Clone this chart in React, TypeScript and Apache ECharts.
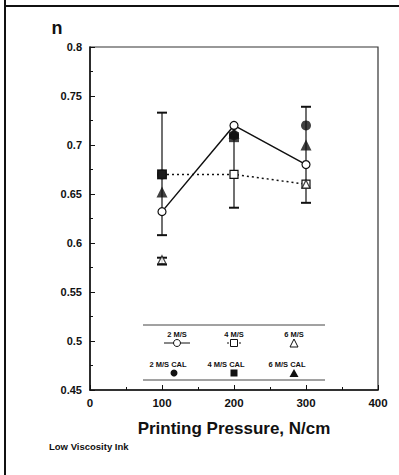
import React, { useEffect, useRef } from "react";
import * as echarts from "echarts";

const pressures = [100, 200, 300];
const ms2 = [0.632, 0.72, 0.68];
const ms4 = [0.67, 0.67, 0.66];
const ms6 = [0.583, 0.712, 0.66];
const ms2cal = [0.67, 0.71, 0.72];
const ms4cal = [0.67, 0.708, null];
const ms6cal = [0.652, 0.712, 0.7];
const errX = [100, 100, 200, 300];
const errLow = [0.608, 0.578, 0.636, 0.641];
const errHigh = [0.733, 0.585, 0.71, 0.739];
const yTicks = [0.45, 0.5, 0.55, 0.6, 0.65, 0.7, 0.75, 0.8];
const xTicks = [0, 100, 200, 300, 400];

const FONT = "Liberation Sans";
const INK = "#111";

function pairs(vals: (number | null)[]) {
  return pressures.map((p, i) => (vals[i] == null ? null : [p, vals[i]])).filter(Boolean);
}

export default function App() {
  const ref = useRef<HTMLDivElement>(null);
  useEffect(() => {
    const chart = echarts.init(ref.current!, undefined, { renderer: "svg" });
    const open = { color: "#fff", borderColor: INK, borderWidth: 1.2 };
    const filled = { color: INK, borderColor: INK, borderWidth: 0 };
    const legTxt = (text: string, x: number, y: number) => ({
      type: "text",
      x,
      y,
      style: { text, fontFamily: FONT, fontWeight: "bold", fontSize: 7.5, fill: INK, textAlign: "center", textVerticalAlign: "middle" },
    });
    chart.setOption({
      animation: false,
      grid: { left: 90, top: 47, right: 21, bottom: 85, show: true, borderColor: "#333", borderWidth: 1.2, backgroundColor: "transparent" },
      xAxis: {
        type: "value",
        min: xTicks[0],
        max: xTicks[xTicks.length - 1],
        interval: 100,
        name: "Printing Pressure, N/cm",
        nameLocation: "middle",
        nameGap: 30,
        nameTextStyle: { fontFamily: FONT, fontWeight: "bold", fontSize: 17, color: INK },
        axisLine: { show: true, lineStyle: { color: INK, width: 1.5 } },
        axisTick: { show: true, inside: true, length: 5, lineStyle: { color: INK } },
        minorTick: { show: true, splitNumber: 2, length: 3, lineStyle: { color: INK } },
        axisLabel: { fontFamily: FONT, fontWeight: "bold", fontSize: 11.5, color: INK, margin: 7 },
        splitLine: { show: false },
      },
      yAxis: {
        type: "value",
        min: yTicks[0],
        max: yTicks[yTicks.length - 1],
        interval: 0.05,
        axisLine: { show: true, lineStyle: { color: INK, width: 1.5 } },
        axisTick: { show: true, inside: true, length: 5, lineStyle: { color: INK } },
        minorTick: { show: true, splitNumber: 2, length: 3, lineStyle: { color: INK } },
        axisLabel: {
          fontFamily: FONT,
          fontWeight: "bold",
          fontSize: 11,
          color: INK,
          margin: 8,
          formatter: (v: number) => String(Math.round(v * 100) / 100),
        },
        splitLine: { show: false },
      },
      graphic: [
        { type: "line", shape: { x1: 5, y1: 0, x2: 5, y2: 475 }, style: { stroke: INK, lineWidth: 2 } },
        { type: "line", shape: { x1: 5, y1: 6, x2: 399, y2: 6 }, style: { stroke: INK, lineWidth: 2 } },
        { type: "text", x: 57, y: 28, style: { text: "n", fontFamily: FONT, fontWeight: "bold", fontSize: 18, fill: INK, textAlign: "center", textVerticalAlign: "middle" } },
        { type: "text", x: 49, y: 446, style: { text: "Low Viscosity Ink", fontFamily: FONT, fontWeight: "bold", fontSize: 9.5, fill: INK, textVerticalAlign: "middle" } },
        { type: "line", shape: { x1: 143, y1: 325, x2: 325, y2: 325 }, style: { stroke: "#444", lineWidth: 1 } },
        { type: "line", shape: { x1: 143, y1: 380, x2: 325, y2: 380 }, style: { stroke: "#444", lineWidth: 1 } },
        legTxt("2 M/S", 177, 334),
        legTxt("4 M/S", 234, 334),
        legTxt("6 M/S", 294, 334),
        legTxt("2 M/S CAL", 168, 364),
        legTxt("4 M/S CAL", 226, 364),
        legTxt("6 M/S CAL", 287, 364),
        { type: "line", shape: { x1: 164, y1: 343, x2: 190, y2: 343 }, style: { stroke: INK, lineWidth: 1 } },
        { type: "circle", shape: { cx: 177, cy: 343, r: 3.5 }, style: { fill: "#fff", stroke: INK, lineWidth: 1 } },
        { type: "line", shape: { x1: 227, y1: 343, x2: 242, y2: 343 }, style: { stroke: INK, lineWidth: 1, lineDash: [2, 2] } },
        { type: "rect", shape: { x: 230.5, y: 339.5, width: 7, height: 7 }, style: { fill: "#fff", stroke: INK, lineWidth: 1 } },
        { type: "polygon", shape: { points: [[294, 339], [298, 347], [290, 347]] }, style: { fill: "#fff", stroke: INK, lineWidth: 1 } },
        { type: "circle", shape: { cx: 174, cy: 373, r: 3.5 }, style: { fill: INK } },
        { type: "rect", shape: { x: 230.5, y: 369.5, width: 7, height: 7 }, style: { fill: INK } },
        { type: "polygon", shape: { points: [[294, 369], [298.5, 377], [289.5, 377]] }, style: { fill: INK } },
      ],
      series: [
        {
          type: "custom",
          data: errX.map((x, i) => [x, errLow[i], errHigh[i]]),
          renderItem: (params: any, api: any) => {
            const x = api.value(0);
            const lo = api.coord([x, api.value(1)]);
            const hi = api.coord([x, api.value(2)]);
            const w = 5;
            const st = { stroke: INK, lineWidth: 1.2 };
            return {
              type: "group",
              children: [
                { type: "line", shape: { x1: lo[0], y1: lo[1], x2: hi[0], y2: hi[1] }, style: st },
                { type: "line", shape: { x1: lo[0] - w, y1: lo[1], x2: lo[0] + w, y2: lo[1] }, style: { stroke: INK, lineWidth: 2 } },
                { type: "line", shape: { x1: hi[0] - w, y1: hi[1], x2: hi[0] + w, y2: hi[1] }, style: { stroke: INK, lineWidth: 2 } },
              ],
            };
          },
          z: 1,
        },
        {
          name: "4 M/S",
          type: "line",
          data: pairs(ms4),
          symbol: "rect",
          symbolSize: 8,
          itemStyle: open,
          lineStyle: { color: INK, width: 1.5, type: [2, 3] },
          z: 2,
        },
        { name: "6 M/S", type: "scatter", data: pairs(ms6), symbol: "triangle", symbolSize: 8, itemStyle: open, z: 3 },
        { name: "4 M/S CAL", type: "scatter", data: pairs(ms4cal), symbol: "rect", symbolSize: 10, itemStyle: filled, z: 4 },
        { name: "2 M/S CAL", type: "scatter", data: pairs(ms2cal), symbol: "circle", symbolSize: 10, itemStyle: filled, z: 4 },
        { name: "6 M/S CAL", type: "scatter", data: pairs(ms6cal), symbol: "triangle", symbolSize: 11, itemStyle: filled, z: 4 },
        {
          name: "2 M/S",
          type: "line",
          data: pairs(ms2),
          symbol: "circle",
          symbolSize: 8,
          itemStyle: open,
          lineStyle: { color: INK, width: 1.5 },
          z: 5,
        },
      ],
    });
    return () => chart.dispose();
  }, []);
  return <div ref={ref} style={{ position: "fixed", left: 0, top: 0, width: 399, height: 475, background: "#fff" }} />;
}
